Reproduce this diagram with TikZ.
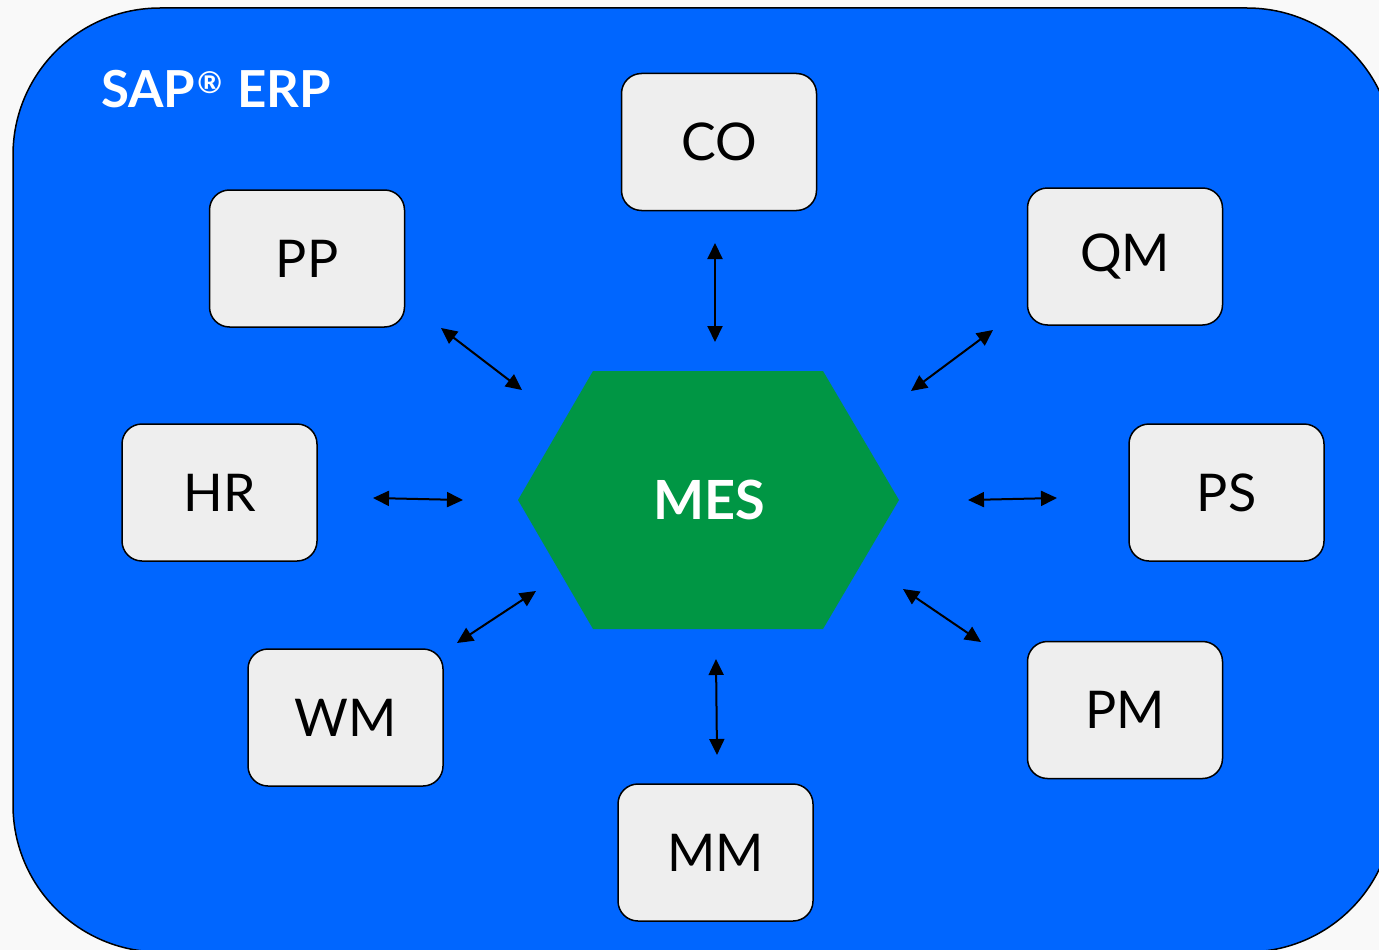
\documentclass[tikz,border=0pt]{standalone}
\usepackage{fontspec}
\setmainfont{Lato}
\usetikzlibrary{arrows.meta}
\definecolor{bggray}{RGB}{249,249,249}
\definecolor{erpblue}{RGB}{0,102,255}
\definecolor{mesgreen}{RGB}{0,150,68}
\definecolor{boxgray}{RGB}{238,238,238}
\tikzset{
  modbox/.style={draw=black, line width=1.5pt, fill=boxgray, rounded corners=20pt,
    minimum width=195pt, minimum height=137pt, inner sep=0pt,
    font=\fontsize{52}{52}\selectfont},
  link/.style={line width=2pt, {Triangle[length=16pt,width=15pt]}-{Triangle[length=16pt,width=15pt]}},
}
\begin{document}
\begin{tikzpicture}[x=1pt,y=-1pt]
\useasboundingbox (0,0) rectangle (1379,950);
\fill[bggray] (0,0) rectangle (1379,950);
\begin{scope}
\clip (0,0) rectangle (1379,950);
\draw[fill=erpblue, line width=1.5pt, rounded corners=147pt] (13,8) rectangle (1394,952);
\end{scope}
\node[anchor=base west, text=white, font=\bfseries\fontsize{51}{51}\selectfont, inner sep=0pt] (erp) at (101,107) {SAP\kern2pt\raisebox{14pt}{\fontsize{30}{30}\selectfont ®}\kern3pt{} ERP};
% hexagon
\fill[mesgreen] (593,371) -- (823,371) -- (899,500) -- (823,629) -- (593,629) -- (518,500) -- cycle;
\node[text=white, font=\bfseries\fontsize{54}{54}\selectfont] (mes) at (709,500) {MES};
% modules
\node[modbox] (co) at (719,142) {CO};
\node[modbox] (pp) at (307,258.5) {PP};
\node[modbox] (qm) at (1125,256.5) {QM};
\node[modbox] (hr) at (219.5,492.5) {HR};
\node[modbox] (ps) at (1226.5,492.5) {PS};
\node[modbox] (wm) at (345.5,717.5) {WM};
\node[modbox] (pm) at (1125,710) {PM};
\node[modbox] (mm) at (715.5,852.5) {MM};
% arrow ends
\coordinate (coA) at (715,243);  \coordinate (coB) at (715,342);
\coordinate (ppA) at (441,328);  \coordinate (ppB) at (522,390);
\coordinate (qmA) at (993,330);  \coordinate (qmB) at (911,391);
\coordinate (hrA) at (373,498);  \coordinate (hrB) at (463,500);
\coordinate (psA) at (1057,498); \coordinate (psB) at (968,500);
\coordinate (wmA) at (457,643);  \coordinate (wmB) at (536,591);
\coordinate (pmA) at (981,642);  \coordinate (pmB) at (903,589);
\coordinate (mmA) at (717,755);  \coordinate (mmB) at (716,659);
\draw[link] (coA) -- (coB);
\draw[link] (ppA) -- (ppB);
\draw[link] (qmA) -- (qmB);
\draw[link] (hrA) -- (hrB);
\draw[link] (psA) -- (psB);
\draw[link] (wmA) -- (wmB);
\draw[link] (pmA) -- (pmB);
\draw[link] (mmA) -- (mmB);
\end{tikzpicture}
\end{document}
